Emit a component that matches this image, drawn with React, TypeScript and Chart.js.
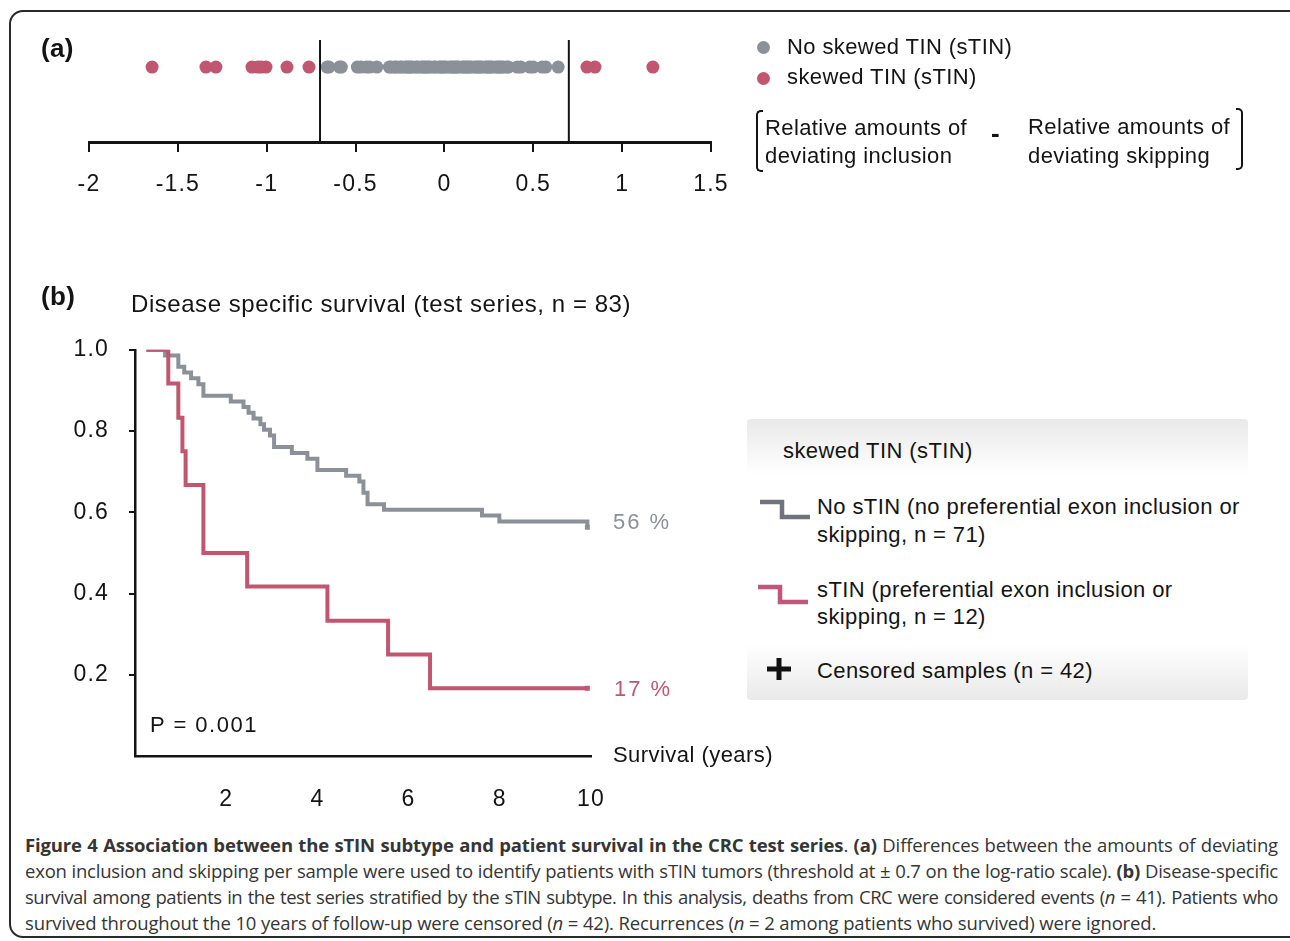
import React, { useEffect, useRef } from 'react';
import { Chart, registerables } from 'chart.js';

Chart.register(...registerables);

const FONT = '"Liberation Sans", Arial, Helvetica, sans-serif';
const CAPTION_FONT = '"Open Sans", "Noto Sans", sans-serif';
const RED = '#c0566f';
const GRAY = '#8b9099';
const INK = '#141414';

// ---------- Panel (a): log-ratio differences ----------
const axisATicks = [-2, -1.5, -1, -0.5, 0, 0.5, 1, 1.5];
const thresholds = [-0.7, 0.7];
const skewedValues = [-1.645, -1.342, -1.286, -1.083, -1.05, -1.032, -1.004, -0.886, -0.762, 0.802, 0.847, 1.173];
const noSkewedValues = [
  -0.66, -0.65, -0.59, -0.58,
  -0.49, -0.47, -0.44, -0.42, -0.38,
  -0.31, -0.3, -0.28, -0.27, -0.25, -0.24, -0.22, -0.21, -0.2, -0.19, -0.18, -0.16, -0.15,
  -0.13, -0.12, -0.11, -0.1, -0.09, -0.08, -0.06, -0.05, -0.03, -0.02, -0.01, 0.0, 0.01,
  0.03, 0.04, 0.05, 0.06, 0.07, 0.08, 0.1, 0.11, 0.12, 0.13, 0.14, 0.15, 0.17, 0.18, 0.19,
  0.2, 0.21, 0.23, 0.24, 0.25, 0.26, 0.27, 0.29, 0.3, 0.31, 0.32, 0.33, 0.35, 0.36,
  0.41, 0.43, 0.48, 0.5, 0.55, 0.57, 0.64,
];
const dotRow = 0.735;

// ---------- Panel (b): Kaplan-Meier ----------
const kmTicksX = [2, 4, 6, 8, 10];
const kmTicksY = [0.2, 0.4, 0.6, 0.8, 1.0];
const noStinTimes = [0.25, 0.66, 0.95, 1.08, 1.23, 1.39, 1.5, 2.1, 2.38, 2.49, 2.6, 2.75, 2.83, 2.96, 3.05, 3.44, 3.78, 4.0, 4.63, 4.92, 5.01, 5.1, 5.46, 7.61, 7.99, 9.92];
const noStinSurv = [1.0, 0.986, 0.958, 0.944, 0.93, 0.915, 0.887, 0.873, 0.859, 0.845, 0.831, 0.817, 0.803, 0.789, 0.761, 0.746, 0.732, 0.704, 0.69, 0.676, 0.648, 0.62, 0.606, 0.592, 0.577, 0.563];
const stinTimes = [0.25, 0.73, 0.95, 1.04, 1.11, 1.5, 2.46, 4.22, 5.55, 6.47, 9.92];
const stinSurv = [1.0, 0.917, 0.833, 0.75, 0.667, 0.5, 0.417, 0.333, 0.25, 0.167, 0.167];

// widen tick label tracking like the original figure
const trackingPlugin = {
  id: 'tracking',
  beforeDraw(chart: any) {
    chart.ctx.letterSpacing = '1.2px';
  },
};

function PanelA() {
  const ref = useRef<HTMLCanvasElement>(null);
  useEffect(() => {
    const chart = new Chart(ref.current!, {
      type: 'scatter',
      data: {
        datasets: [
          ...thresholds.map((t) => ({
            type: 'line' as const,
            data: [{ x: t, y: 0 }, { x: t, y: 1 }],
            borderColor: INK,
            borderWidth: 2,
            pointRadius: 0,
          })),
          {
            data: skewedValues.map((v) => ({ x: v, y: dotRow })),
            backgroundColor: RED,
            borderWidth: 0,
            pointRadius: 6.5,
          },
          {
            data: noSkewedValues.map((v) => ({ x: v, y: dotRow })),
            backgroundColor: GRAY,
            borderWidth: 0,
            pointRadius: 6.5,
          },
        ],
      } as any,
      options: {
        responsive: false,
        animation: false,
        events: [],
        layout: { padding: { left: 89, right: 49, top: 40, bottom: 28 } },
        plugins: { legend: { display: false }, tooltip: { enabled: false } },
        scales: {
          x: {
            type: 'linear',
            min: -2,
            max: 1.5,
            afterBuildTicks: (s: any) => {
              s.ticks = axisATicks.map((v) => ({ value: v }));
            },
            afterFit: (s: any) => {
              s.height = 60;
            },
            ticks: {
              autoSkip: false,
              maxRotation: 0,
              padding: 19,
              color: INK,
              font: { family: FONT, size: 23 },
              callback: (v: any) => String(v),
            },
            grid: { drawOnChartArea: false, drawTicks: true, tickLength: 10, color: INK, lineWidth: 2 },
            border: { display: true, color: INK, width: 3 },
          },
          y: { display: false, min: 0, max: 1 },
        },
      },
      plugins: [trackingPlugin],
    });
    return () => chart.destroy();
  }, []);
  return (
    <canvas
      ref={ref}
      width={760}
      height={230}
      style={{ position: 'absolute', left: 0, top: 0, width: 760, height: 230 }}
    />
  );
}

function PanelB() {
  const ref = useRef<HTMLCanvasElement>(null);
  useEffect(() => {
    const endMarker = (ctx: any) => (ctx.dataIndex === ctx.dataset.data.length - 1 ? 3.5 : 0);
    const chart = new Chart(ref.current!, {
      type: 'line',
      data: {
        datasets: [
          {
            data: stinTimes.map((t, i) => ({ x: t, y: stinSurv[i] })),
            borderColor: RED,
            backgroundColor: RED,
            borderWidth: 4,
            stepped: 'before',
            fill: false,
            borderJoinStyle: 'miter',
            borderCapStyle: 'butt',
            pointStyle: 'rect',
            pointRadius: endMarker,
            pointBorderWidth: 0,
          },
          {
            data: noStinTimes.map((t, i) => ({ x: t, y: noStinSurv[i] })),
            borderColor: GRAY,
            backgroundColor: GRAY,
            borderWidth: 4,
            stepped: 'before',
            fill: false,
            borderJoinStyle: 'miter',
            borderCapStyle: 'butt',
            pointStyle: 'rect',
            pointRadius: endMarker,
            pointBorderWidth: 0,
          },
        ],
      } as any,
      options: {
        responsive: false,
        animation: false,
        events: [],
        layout: { padding: { left: 0, right: 149, top: 0, bottom: 0 } },
        plugins: { legend: { display: false }, tooltip: { enabled: false } },
        scales: {
          x: {
            type: 'linear',
            min: 0,
            max: 10,
            afterBuildTicks: (s: any) => {
              s.ticks = kmTicksX.map((v) => ({ value: v }));
            },
            afterFit: (s: any) => {
              s.height = 70;
            },
            ticks: {
              autoSkip: false,
              maxRotation: 0,
              padding: 22,
              color: INK,
              font: { family: FONT, size: 23 },
              callback: (v: any) => String(v),
            },
            grid: { display: false },
            border: { display: true, color: INK, width: 2.5 },
          },
          y: {
            type: 'linear',
            min: 0,
            max: 1,
            afterBuildTicks: (s: any) => {
              s.ticks = kmTicksY.map((v) => ({ value: v }));
            },
            afterFit: (s: any) => {
              s.width = 135;
            },
            ticks: {
              autoSkip: false,
              padding: 20,
              color: INK,
              font: { family: FONT, size: 23 },
              callback: (v: any) => Number(v).toFixed(1),
            },
            grid: { drawOnChartArea: false, drawTicks: true, tickLength: 6, color: INK, lineWidth: 2 },
            border: { display: true, color: INK, width: 2.5 },
          },
        },
      },
      plugins: [trackingPlugin],
    });
    return () => chart.destroy();
  }, []);
  return (
    <canvas
      ref={ref}
      width={740}
      height={510}
      style={{ position: 'absolute', left: 0, top: 316, width: 740, height: 510 }}
    />
  );
}

function Txt(props: {
  x: number;
  y: number;
  size: number;
  bold?: boolean;
  color?: string;
  ls?: number;
  children: React.ReactNode;
}) {
  const { x, y, size, bold, color, ls, children } = props;
  return (
    <div
      style={{
        position: 'absolute',
        left: x,
        top: y - size * 0.52,
        fontFamily: FONT,
        fontSize: size,
        lineHeight: 1,
        fontWeight: bold ? 700 : 400,
        color: color || INK,
        whiteSpace: 'nowrap',
        letterSpacing: ls === undefined ? 0.4 : ls,
      }}
    >
      {children}
    </div>
  );
}

function Dot(props: { x: number; y: number; color: string }) {
  return (
    <div
      style={{
        position: 'absolute',
        left: props.x - 6.5,
        top: props.y - 6.5,
        width: 13,
        height: 13,
        borderRadius: '50%',
        background: props.color,
      }}
    />
  );
}

function StepIcon(props: { x: number; y: number; color: string }) {
  return (
    <svg width={52} height={24} style={{ position: 'absolute', left: props.x, top: props.y }}>
      <path d="M0 3 H22 V18 H50" fill="none" stroke={props.color} strokeWidth={4.5} strokeLinejoin="miter" />
    </svg>
  );
}

const captionLine: React.CSSProperties = {
  position: 'absolute',
  left: 25,
  width: 1253,
  fontFamily: CAPTION_FONT,
  fontSize: 18.5,
  lineHeight: '26px',
  color: '#353535',
  whiteSpace: 'nowrap',
  letterSpacing: -0.14,
};

export default function App() {
  return (
    <div
      style={{
        position: 'absolute',
        left: 0,
        top: 0,
        width: 1290,
        height: 941,
        overflow: 'hidden',
        background: '#fff',
      }}
    >
      {/* frame */}
      <div
        style={{
          position: 'absolute',
          left: 9,
          top: 10,
          width: 1300,
          height: 928,
          border: '2px solid #2a2a2a',
          borderRadius: 14,
          boxSizing: 'border-box',
        }}
      />

      <PanelA />
      <PanelB />

      {/* panel a labels */}
      <Txt x={41} y={49} size={26} bold ls={0.3}>(a)</Txt>
      <Dot x={763} y={47} color={GRAY} />
      <Txt x={787} y={47} size={22}>No skewed TIN (sTIN)</Txt>
      <Dot x={763} y={78} color={RED} />
      <Txt x={787} y={77} size={22}>skewed TIN (sTIN)</Txt>

      <div
        style={{
          position: 'absolute',
          left: 756,
          top: 110,
          width: 7,
          height: 62,
          borderLeft: '2px solid ' + INK,
          borderTop: '2px solid ' + INK,
          borderBottom: '2px solid ' + INK,
          borderRadius: '5px 0 0 5px',
          boxSizing: 'border-box',
        }}
      />
      <Txt x={765} y={128} size={22}>Relative amounts of</Txt>
      <Txt x={765} y={156} size={22}>deviating inclusion</Txt>
      <Txt x={991} y={134} size={26} bold>-</Txt>
      <Txt x={1028} y={127} size={22}>Relative amounts of</Txt>
      <Txt x={1028} y={156} size={22}>deviating skipping</Txt>
      <div
        style={{
          position: 'absolute',
          left: 1236,
          top: 108,
          width: 7,
          height: 62,
          borderRight: '2px solid ' + INK,
          borderTop: '2px solid ' + INK,
          borderBottom: '2px solid ' + INK,
          borderRadius: '0 5px 5px 0',
          boxSizing: 'border-box',
        }}
      />

      {/* panel b labels */}
      <Txt x={41} y={297} size={26} bold ls={0.3}>(b)</Txt>
      <Txt x={131} y={304} size={24} ls={0.55}>Disease specific survival (test series, n = 83)</Txt>
      <Txt x={150} y={725} size={22} ls={1.5}>P = 0.001</Txt>
      <Txt x={613} y={755} size={22} ls={0.45}>Survival (years)</Txt>
      <Txt x={613} y={522} size={22} ls={2} color={GRAY}>56 %</Txt>
      <Txt x={614} y={689} size={22} ls={2} color={RED}>17 %</Txt>

      {/* legend box b */}
      <div
        style={{
          position: 'absolute',
          left: 747,
          top: 419,
          width: 501,
          height: 281,
          borderRadius: 4,
          background:
            'linear-gradient(to bottom, #e9e9e9 0%, #ffffff 20%, #ffffff 80%, #e9e9e9 100%)',
        }}
      />
      <Txt x={783} y={451} size={22}>skewed TIN (sTIN)</Txt>
      <StepIcon x={760} y={499} color="#6f747c" />
      <Txt x={817} y={507} size={22}>No sTIN (no preferential exon inclusion or</Txt>
      <Txt x={817} y={535} size={22}>skipping, n = 71)</Txt>
      <StepIcon x={758} y={584} color="#c4557a" />
      <Txt x={817} y={590} size={22}>sTIN (preferential exon inclusion or</Txt>
      <Txt x={817} y={617} size={22}>skipping, n = 12)</Txt>
      <svg width={28} height={24} style={{ position: 'absolute', left: 765, top: 657 }}>
        <path d="M2 12 H26 M14 1 V23" stroke="#111" strokeWidth={5} />
      </svg>
      <Txt x={817} y={671} size={22}>Censored samples (n = 42)</Txt>

      {/* caption */}
      <div style={{ ...captionLine, top: 832, textAlign: 'justify', textAlignLast: 'justify' }}>
        <b>Figure 4 Association between the sTIN subtype and patient survival in the CRC test series</b>. <b>(a)</b> Differences between the amounts of deviating
      </div>
      <div style={{ ...captionLine, top: 858, letterSpacing: -0.22, textAlign: 'justify', textAlignLast: 'justify' }}>
        exon inclusion and skipping per sample were used to identify patients with sTIN tumors (threshold at ± 0.7 on the log-ratio scale). <b>(b)</b> Disease-specific
      </div>
      <div style={{ ...captionLine, top: 884, letterSpacing: -0.48, textAlign: 'justify', textAlignLast: 'justify' }}>
        survival among patients in the test series stratified by the sTIN subtype. In this analysis, deaths from CRC were considered events (<i>n</i> = 41). Patients who
      </div>
      <div style={{ ...captionLine, top: 910 }}>
        survived throughout the 10 years of follow-up were censored (<i>n</i> = 42). Recurrences (<i>n</i> = 2 among patients who survived) were ignored.
      </div>
    </div>
  );
}
